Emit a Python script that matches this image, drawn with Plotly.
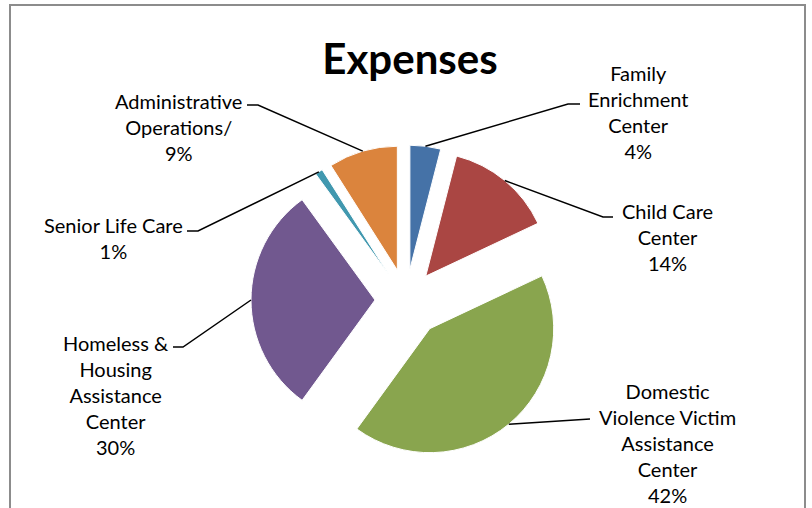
import math
import plotly.graph_objects as go

# ---- data ----
categories = [
    "Family Enrichment Center",
    "Child Care Center",
    "Domestic Violence Victim Assistance Center",
    "Homeless & Housing Assistance Center",
    "Senior Life Care",
    "Administrative Operations/",
]
values = [4, 14, 42, 30, 1, 9]
label_texts = [
    "Family<br>Enrichment<br>Center<br>4%",
    "Child Care<br>Center<br>14%",
    "Domestic<br>Violence Victim<br>Assistance<br>Center<br>42%",
    "Homeless &<br>Housing<br>Assistance<br>Center<br>30%",
    "Senior Life Care<br>1%",
    "Administrative<br>Operations/<br>9%",
]
colors = ["#4572A7", "#AA4643", "#89A54E", "#71588F", "#4198AF", "#DB843D"]

# ---- layout (pixels) ----
W, H = 812, 508
pulls = [0.25, 0.25, 0.30, 0.25, 0.25, 0.25]
CX, CY = 406, 300          # pie centre in px
R = 124                    # slice radius in px
BOX = 2 * R * (1 + max(pulls))

# label centre (x, y) and leader elbow/end points (px)
label_pos = [(638, 112), (667, 237), (667, 443), (116, 395), (113, 238), (178, 127)]
leader_end = [(580, 104), (613, 217), (590, 419), (173, 347), (187, 231), (247, 105)]
leader_elbow = [(568, 104), (603, 217), (590, 419), (183, 347), (198, 231), (258, 105)]


def px(x, y):
    return x / W, 1 - y / H


fig = go.Figure(
    go.Pie(
        labels=categories,
        values=values,
        sort=False,
        direction="clockwise",
        rotation=0,
        pull=pulls,
        marker=dict(colors=colors, line=dict(color="white", width=1)),
        textinfo="none",
        hoverinfo="label+percent",
        domain=dict(
            x=[(CX - BOX / 2) / W, (CX + BOX / 2) / W],
            y=[1 - (CY + BOX / 2) / H, 1 - (CY - BOX / 2) / H],
        ),
        showlegend=False,
    )
)

total = sum(values)
cum = 0
shapes = []
annotations = []
for i, v in enumerate(values):
    mid = (cum + v / 2) / total * 2 * math.pi
    cum += v
    dist = R * (1 + pulls[i])
    sx = CX + dist * math.sin(mid)
    sy = CY - dist * math.cos(mid)
    ex, ey = leader_end[i]
    bx, by = leader_elbow[i]
    p0, p1, p2 = px(ex, ey), px(bx, by), px(sx, sy)
    shapes.append(dict(
        type="path", xref="paper", yref="paper",
        path=f"M {p0[0]} {p0[1]} L {p1[0]} {p1[1]} L {p2[0]} {p2[1]}",
        line=dict(color="black", width=1.5),
    ))
    lx, ly = px(*label_pos[i])
    annotations.append(dict(
        x=lx, y=ly, xref="paper", yref="paper", text=label_texts[i],
        showarrow=False, xanchor="center", yanchor="middle", align="center",
        font=dict(family="Lato", size=20, color="black"),
    ))

# chart border
b0, b1 = px(10, 5), px(805, 520)
shapes.append(dict(type="rect", xref="paper", yref="paper",
                   x0=b0[0], y0=b1[1], x1=b1[0], y1=b0[1],
                   line=dict(color="#8c8c8c", width=2), layer="below"))

fig.update_layout(
    width=W, height=H,
    margin=dict(l=0, r=0, t=0, b=0),
    paper_bgcolor="white", plot_bgcolor="white",
    title=dict(text="<b>Expenses</b>", x=410 / W, xanchor="center",
               y=1 - 59 / H, yanchor="middle",
               font=dict(family="Lato", size=42, color="black")),
    shapes=shapes,
    annotations=annotations,
)

fig.write_html("out.html", config={"displayModeBar": False},
               post_script="document.body.style.margin='0px';")
